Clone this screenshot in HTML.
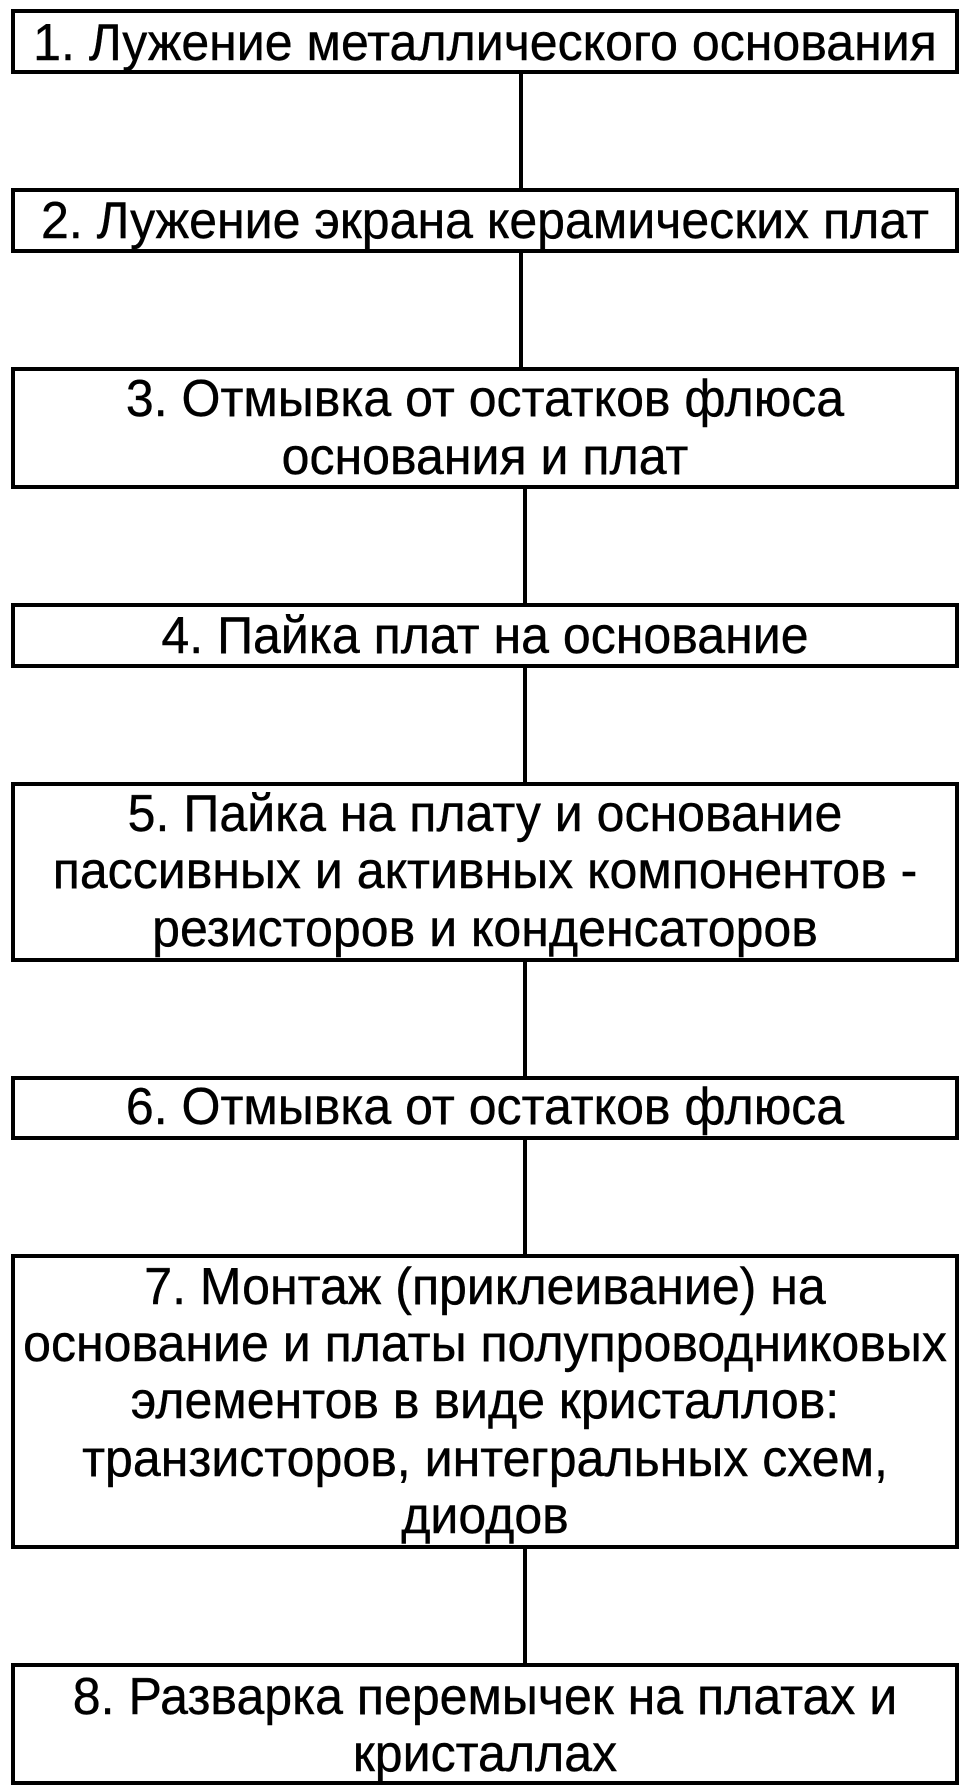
<!DOCTYPE html>
<html lang="ru">
<head>
<meta charset="utf-8">
<style>
html,body{margin:0;padding:0;background:#fff;width:968px;height:1792px;overflow:hidden}
svg{display:block}
text{font-family:"Liberation Sans",Arial,sans-serif;font-size:52px;fill:#000;stroke:#000;stroke-width:.4px;text-anchor:middle}
rect{fill:#fff;stroke:#000;stroke-width:4}
line{stroke:#000;stroke-width:4}
</style>
</head>
<body>
<svg xmlns="http://www.w3.org/2000/svg" width="968" height="1792" viewBox="0 0 968 1792">
<g shape-rendering="crispEdges">
<line x1="521" y1="72" x2="521" y2="190"/>
<line x1="521" y1="251" x2="521" y2="369"/>
<line x1="525" y1="487" x2="525" y2="605"/>
<line x1="525" y1="666" x2="525" y2="784"/>
<line x1="525" y1="960" x2="525" y2="1078"/>
<line x1="525" y1="1138" x2="525" y2="1256"/>
<line x1="525" y1="1547" x2="525" y2="1665"/>
<rect x="13" y="11" width="944" height="61"/>
<rect x="13" y="190" width="944" height="61"/>
<rect x="13" y="369" width="944" height="118"/>
<rect x="13" y="605" width="944" height="61"/>
<rect x="13" y="784" width="944" height="176"/>
<rect x="13" y="1078" width="944" height="60"/>
<rect x="13" y="1256" width="944" height="291"/>
<rect x="13" y="1665" width="944" height="118"/>
</g>
<g transform="translate(485,0) scale(.963,1)">
<text x="0" y="60">1. Лужение металлического основания</text>
<text x="0" y="238">2. Лужение экрана керамических плат</text>
<text x="0" y="416">3. Отмывка от остатков флюса</text>
<text x="0" y="474">основания и плат</text>
<text x="0" y="653">4. Пайка плат на основание</text>
<text x="0" y="831">5. Пайка на плату и основание</text>
<text x="0" y="888">пассивных и активных компонентов -</text>
<text x="0" y="946">резисторов и конденсаторов</text>
<text x="0" y="1124">6. Отмывка от остатков флюса</text>
<text x="0" y="1304">7. Монтаж (приклеивание) на</text>
<text x="0" y="1361">основание и платы полупроводниковых</text>
<text x="0" y="1418">элементов в виде кристаллов:</text>
<text x="0" y="1476">транзисторов, интегральных схем,</text>
<text x="0" y="1533">диодов</text>
<text x="0" y="1714">8. Разварка перемычек на платах и</text>
<text x="0" y="1771">кристаллах</text>
</g>
</svg>
</body>
</html>
